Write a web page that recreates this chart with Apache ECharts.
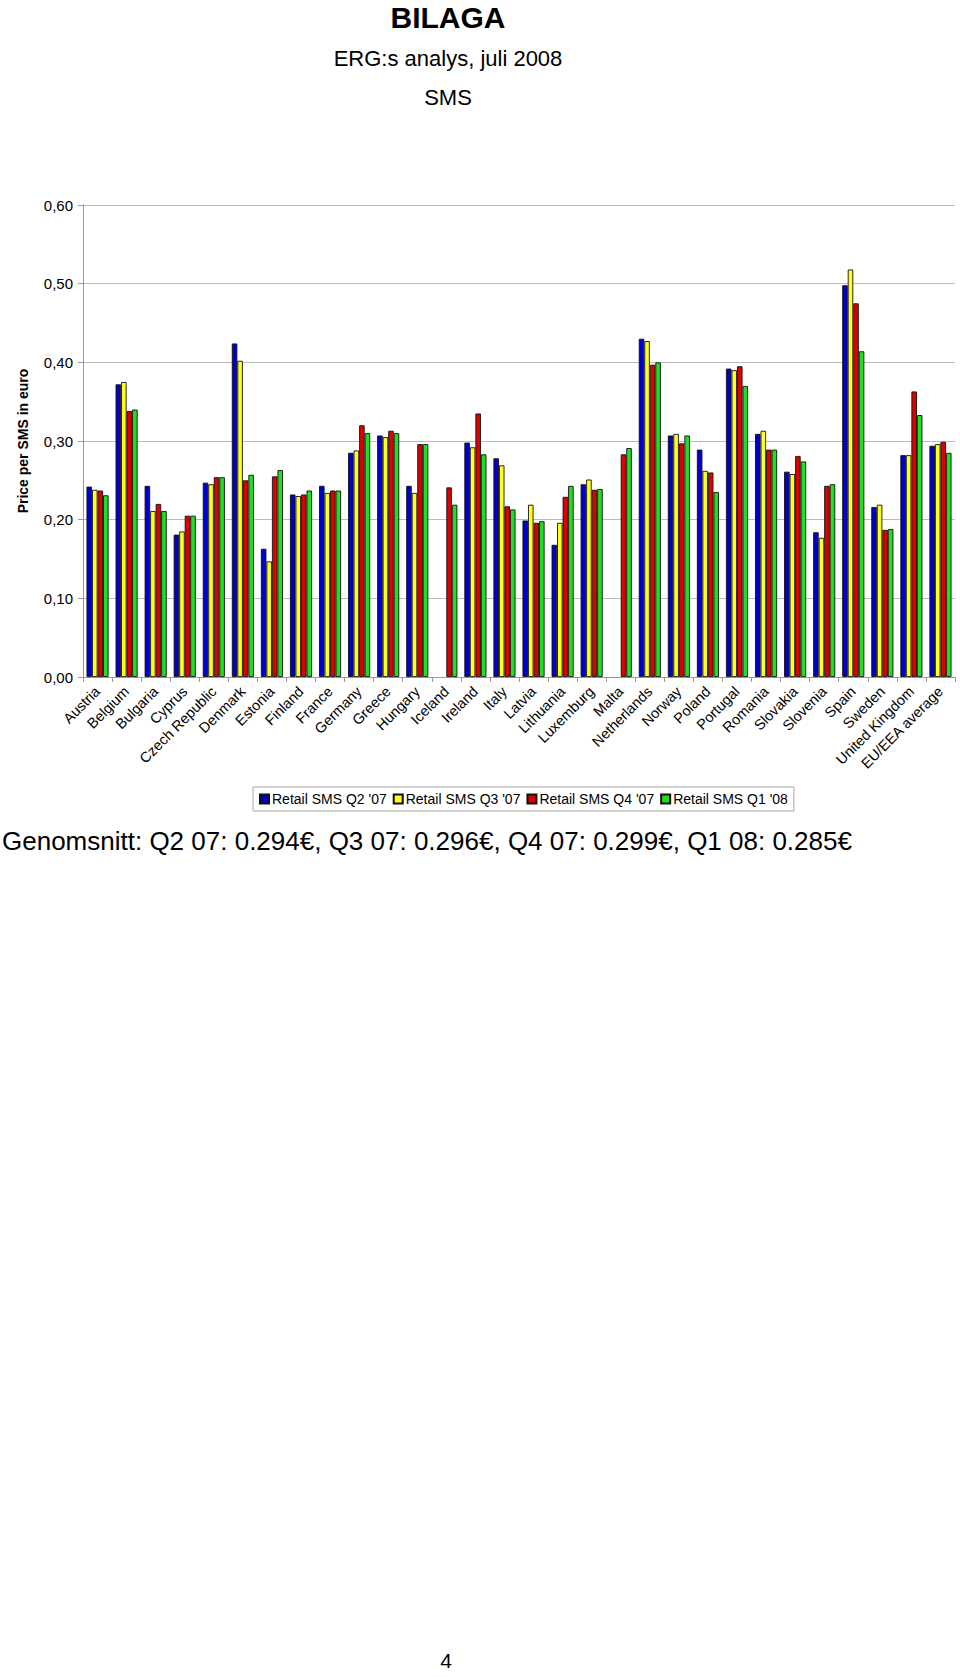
<!DOCTYPE html>
<html>
<head>
<meta charset="utf-8">
<script src="https://cdn.jsdelivr.net/npm/echarts@6/dist/echarts.min.js"></script>
<style>
html,body{margin:0;padding:0;background:#fff;}
#c{width:960px;height:1677px;}
</style>
</head>
<body>
<div id="c"></div>
<script>
var categories = ["Austria","Belgium","Bulgaria","Cyprus","Czech Republic","Denmark","Estonia","Finland","France","Germany","Greece","Hungary","Iceland","Ireland","Italy","Latvia","Lithuania","Luxemburg","Malta","Netherlands","Norway","Poland","Portugal","Romania","Slovakia","Slovenia","Spain","Sweden","United Kingdom","EU/EEA average"];
var seriesNames = ["Retail SMS Q2 '07","Retail SMS Q3 '07","Retail SMS Q4 '07","Retail SMS Q1 '08"];
var q2_07 = [0.242,0.372,0.243,0.181,0.247,0.424,0.163,0.232,0.243,0.285,0.307,0.243,null,0.298,0.278,0.199,0.168,0.245,null,0.430,0.307,0.289,0.392,0.309,0.261,0.184,0.498,0.216,0.282,0.294];
var q3_07 = [0.238,0.375,0.211,0.185,0.245,0.402,0.147,0.230,0.234,0.288,0.305,0.234,null,0.292,0.269,0.219,0.196,0.251,null,0.427,0.309,0.262,0.390,0.313,0.258,0.177,0.518,0.219,0.282,0.296];
var q4_07 = [0.237,0.338,0.220,0.205,0.254,0.250,0.255,0.232,0.237,0.320,0.313,0.296,0.241,0.335,0.217,0.196,0.229,0.238,0.283,0.397,0.297,0.260,0.395,0.289,0.281,0.243,0.475,0.187,0.363,0.299];
var q1_08 = [0.231,0.340,0.211,0.205,0.254,0.257,0.263,0.237,0.237,0.310,0.310,0.296,0.219,0.283,0.213,0.198,0.243,0.239,0.291,0.400,0.307,0.235,0.370,0.289,0.274,0.245,0.414,0.188,0.333,0.285];
var yTicks = {min:0, max:0.6, interval:0.1};

var colors = ['#0000cc','#ffff22','#dd0000','#22dd22'];
var dataSets = [q2_07,q3_07,q4_07,q1_08];
var FONT = '"Liberation Sans", Arial, sans-serif';

var chart = echarts.init(document.getElementById('c'), null, {renderer:'svg'});
var series = dataSets.map(function(d,i){
  return {
    name: seriesNames[i],
    type: 'bar',
    data: d.map(function(v){return v===null?'-':v;}),
    barGap: '0%',
    barCategoryGap: '24%',
    itemStyle: {color: colors[i], borderColor:'#111', borderWidth:0.9},
    emphasis: {disabled:true}
  };
});

function txt(x,y,s,font){
  return {type:'text', x:x, y:y, style:{text:s, font:font, fill:'#000', textAlign:'center', textVerticalAlign:'middle'}};
}

chart.setOption({
  animation:false,
  textStyle:{fontFamily:FONT},
  graphic:[
    txt(448,17,'BILAGA','bold 30px '+FONT),
    txt(448,58,'ERG:s analys, juli 2008','22px '+FONT),
    txt(448,97,'SMS','22px '+FONT),
    {type:'text', x:2, y:841, style:{text:'Genomsnitt: Q2 07: 0.294€, Q3 07: 0.296€, Q4 07: 0.299€, Q1 08: 0.285€', font:'26px '+FONT, fill:'#000', textAlign:'left', textVerticalAlign:'middle'}},
    txt(446,1660,'4','21px '+FONT)
  ],
  legend:{
    data:seriesNames,
    left:253, top:787,
    orient:'horizontal',
    icon:'rect',
    itemWidth:9, itemHeight:9, itemGap:6,
    padding:[5,6,5,6],
    borderColor:'#aaa', borderWidth:1,
    textStyle:{fontSize:14, color:'#000', fontFamily:FONT, padding:[0,0,0,-2]}
  },
  grid:{left:83, right:5, top:205, bottom:1000, containLabel:false},
  xAxis:{
    type:'category',
    data:categories,
    axisLine:{lineStyle:{color:'#999'}},
    axisTick:{show:true, alignWithLabel:false, length:5, lineStyle:{color:'#999'}},
    axisLabel:{rotate:45, fontSize:14.5, color:'#000', margin:12, interval:0, fontFamily:FONT}
  },
  yAxis:{
    type:'value',
    min:yTicks.min, max:yTicks.max, interval:yTicks.interval,
    name:'Price per SMS in euro',
    nameLocation:'middle',
    nameGap:53,
    nameTextStyle:{fontSize:14, fontWeight:'bold', color:'#000', fontFamily:FONT},
    axisLine:{show:true, lineStyle:{color:'#999'}},
    axisTick:{show:true, length:5, lineStyle:{color:'#999'}},
    axisLabel:{fontSize:15, color:'#000', margin:10, fontFamily:FONT, formatter:function(v){return v.toFixed(2).replace('.',',');}},
    splitLine:{lineStyle:{color:'#bbb', width:1}}
  },
  series:series
});
</script>
</body>
</html>
